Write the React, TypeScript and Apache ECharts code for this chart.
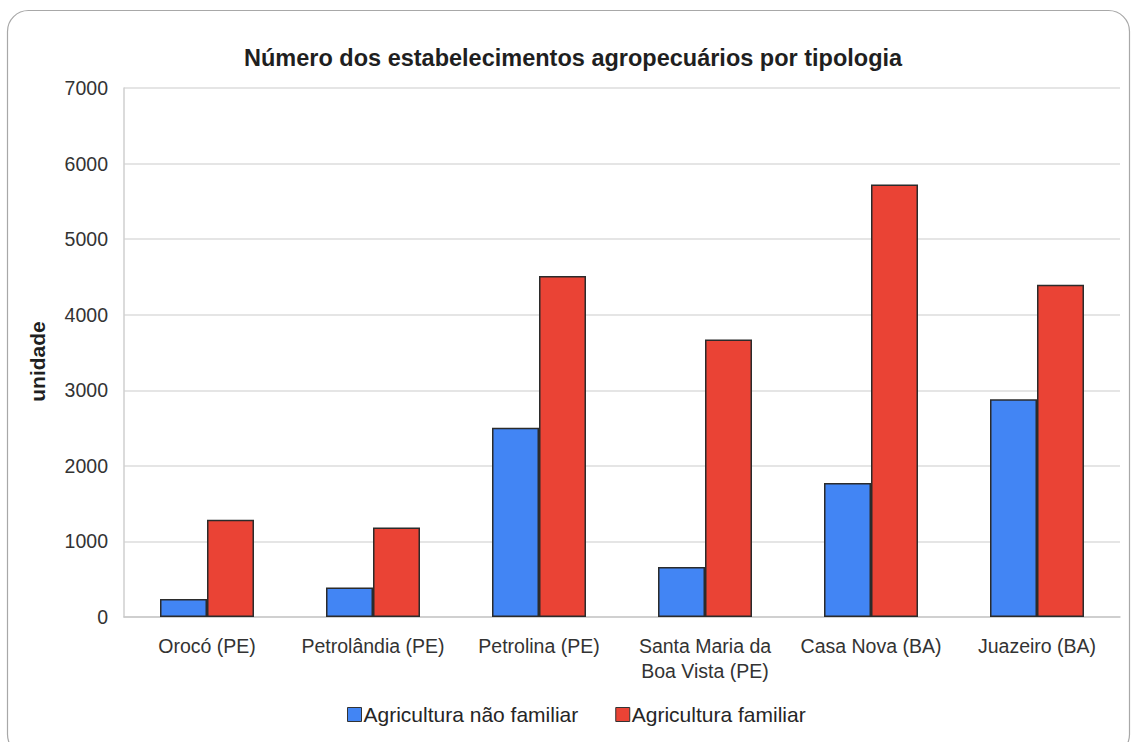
import { useEffect, useRef } from "react";
import * as echarts from "echarts";

// Municipalities and the number of farm establishments by type
const categories = [
  "Orocó (PE)",
  "Petrolândia (PE)",
  "Petrolina (PE)",
  "Santa Maria da\nBoa Vista (PE)",
  "Casa Nova (BA)",
  "Juazeiro (BA)",
];
const naoFamiliar = [238, 389, 2505, 661, 1772, 2880];
const familiar = [1288, 1183, 4511, 3673, 5723, 4397];
const seriesNames = ["Agricultura não familiar", "Agricultura familiar"];

const yMin = 0;
const yMax = 7000;
const yStep = 1000;

const FONT = '"Liberation Sans", Arial, Helvetica, sans-serif';
const BLUE = "#4285f4";
const RED = "#ea4335";
const BAR_EDGE = "#2b2b2b";

export default function App() {
  const ref = useRef<HTMLDivElement>(null);

  useEffect(() => {
    if (!ref.current) return;
    const chart = echarts.init(ref.current, null, { renderer: "svg" });
    chart.setOption({
      animation: false,
      backgroundColor: "#ffffff",
      textStyle: { fontFamily: FONT },
      title: {
        text: "Número dos estabelecimentos agropecuários por tipologia",
        left: 244,
        top: 46,
        padding: 0,
        textStyle: {
          fontFamily: FONT,
          fontSize: 23.5,
          fontWeight: "bold",
          color: "#1f1f1f",
        },
      },
      graphic: [
        {
          type: "rect",
          silent: true,
          z: -10,
          shape: { x: 7.5, y: 10.5, width: 1122, height: 745, r: 21 },
          style: { fill: "none", stroke: "#a8a8a8", lineWidth: 1.2 },
        },
      ],
      grid: { left: 124, right: 11, top: 88, bottom: 125, containLabel: false },
      legend: {
        left: 347,
        top: 704,
        itemWidth: 14,
        itemHeight: 14,
        itemGap: 37,
        icon: "rect",
        padding: 0,
        itemStyle: { borderColor: "#333333", borderWidth: 1 },
        textStyle: {
          fontFamily: FONT,
          fontSize: 21,
          color: "#262626",
          padding: [0, 0, 0, -3],
        },
        data: seriesNames,
      },
      xAxis: {
        type: "category",
        data: categories,
        axisTick: { show: false },
        axisLine: { lineStyle: { color: "#c8c8c8", width: 1.5 } },
        axisLabel: {
          fontFamily: FONT,
          fontSize: 19.5,
          color: "#333333",
          margin: 16,
          lineHeight: 25,
          interval: 0,
        },
      },
      yAxis: {
        type: "value",
        min: yMin,
        max: yMax,
        interval: yStep,
        name: "unidade",
        nameLocation: "middle",
        nameRotate: 90,
        nameGap: 76,
        nameTextStyle: {
          fontFamily: FONT,
          fontSize: 21,
          fontWeight: "bold",
          color: "#1f1f1f",
          padding: [0, 18, 0, 0],
        },
        axisLine: { show: true, lineStyle: { color: "#cfcfcf", width: 1.5 } },
        axisTick: { show: false },
        axisLabel: {
          fontFamily: FONT,
          fontSize: 19.5,
          color: "#333333",
          margin: 16,
          formatter: (v: number) => String(v),
        },
        splitLine: { lineStyle: { color: "#dddddd", width: 1.5 } },
      },
      series: [
        {
          name: seriesNames[0],
          type: "bar",
          data: naoFamiliar,
          barWidth: 47,
          barGap: "0%",
          itemStyle: { color: BLUE, borderColor: BAR_EDGE, borderWidth: 1.5 },
        },
        {
          name: seriesNames[1],
          type: "bar",
          data: familiar,
          barWidth: 47,
          barGap: "0%",
          itemStyle: { color: RED, borderColor: BAR_EDGE, borderWidth: 1.5 },
        },
      ],
    });
    return () => chart.dispose();
  }, []);

  return (
    <div
      ref={ref}
      style={{
        position: "fixed",
        left: 0,
        top: 0,
        width: 1131,
        height: 742,
        background: "#ffffff",
      }}
    />
  );
}
